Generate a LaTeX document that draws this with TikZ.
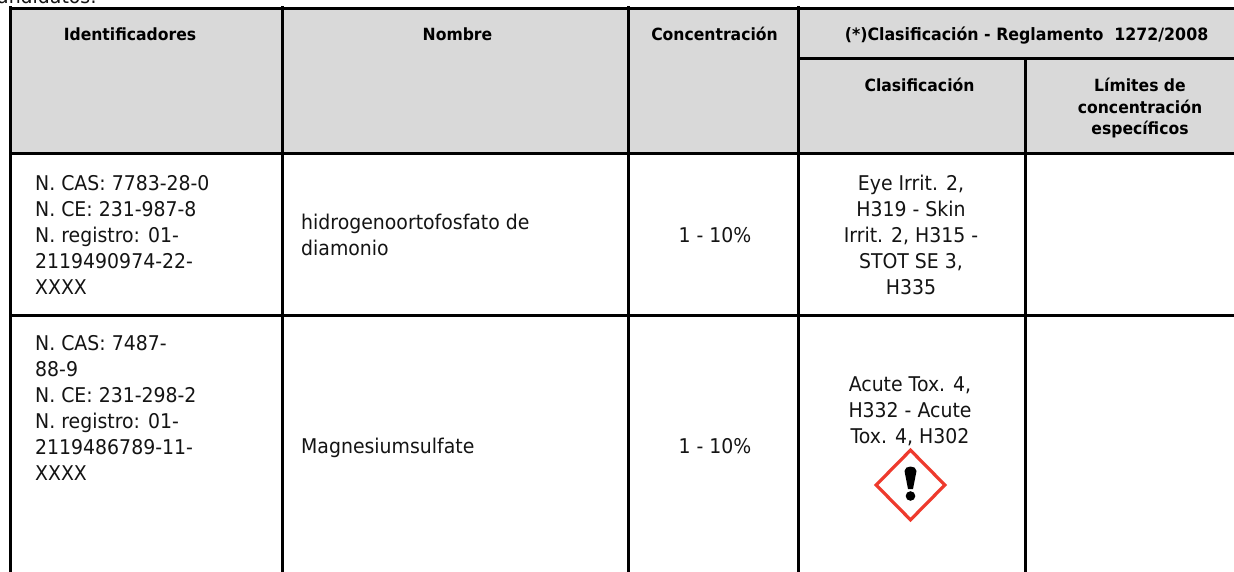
\documentclass[tikz,border=0pt]{standalone}
\usepackage{fontspec}
\setmainfont{DejaVu Sans}[FakeStretch=0.93]
\usetikzlibrary{shapes.geometric}
\definecolor{headgrey}{RGB}{217,217,217}
\definecolor{ghsred}{RGB}{238,58,45}
\tikzset{
  x=1pt,y=-1pt,
  rule/.style={line width=3pt,black,line cap=rect},
  head/.style={font=\fontsize{16.8}{21.5}\selectfont\bfseries,align=center,inner sep=0pt,anchor=north},
  headb/.style={head,anchor=base},
  body/.style={font=\fontsize{20.3}{26}\selectfont,align=left,inner sep=0pt,anchor=west,text=black!92},
  bodyc/.style={font=\fontsize{20.3}{26}\selectfont,align=center,inner sep=0pt,text=black!92},
}
\begin{document}
\begin{tikzpicture}
\clip (0,0) rectangle (1234,572);
\useasboundingbox (0,0) rectangle (1234,572);
\fill[white] (0,0) rectangle (1234,572);
\node[body,anchor=base west] (cut) at (-3,3.5) {andidatos:};
\fill[headgrey] (10,8) rectangle (1234,153);
% rules
\coordinate (tl) at (10,8.5); \coordinate (tr) at (1236,8.5);
\coordinate (hl) at (10,153.5); \coordinate (hr) at (1236,153.5);
\draw[rule] (tl) -- (tr);
\draw[rule] (hl) -- (hr);
\draw[rule] (10,315) -- (1236,315);
\draw[rule] (798,59) -- (1236,59);
\draw[rule] (10,8) -- (10,574);
\draw[rule] (282,8) -- (282,574);
\draw[rule] (628,8) -- (628,574);
\draw[rule] (798,8) -- (798,574);
\draw[rule] (1025,59) -- (1025,574);
% headers
\node[headb] (h1) at (130,41) {Identificadores};
\node[headb] (h2) at (457.5,41) {Nombre};
\node[headb] (h3) at (714.5,41) {Concentración};
\node[headb,font=\fontsize{17}{21.5}\selectfont\bfseries] (h4) at (1026.5,41) {(*)Clasificación - Reglamento\ \ 1272/2008};
\node[headb] (h5) at (919.5,92) {Clasificación};
\node[head] (h6) at (1140,78) {Límites de\\concentración\\específicos};
% row 1
\node[body] (a1) at (35,234.5) {N. CAS: 7783-28-0\\N. CE: 231-987-8\\N. registro: 01-\\2119490974-22-\\XXXX};
\node[body] (b1) at (301,235) {hidrogenoortofosfato de\\diamonio};
\node[bodyc] (c1) at (715,235) {1 - 10\%};
\node[bodyc] (d1) at (911,234.5) {Eye Irrit. 2,\\H319 - Skin\\Irrit. 2, H315 -\\STOT SE 3,\\H335};
% row 2
\node[body] (a2) at (35,408) {N. CAS: 7487-\\88-9\\N. CE: 231-298-2\\N. registro: 01-\\2119486789-11-\\XXXX};
\node[body,anchor=base west] (b2) at (301,453) {Magnesiumsulfate};
\node[bodyc] (c2) at (715,446) {1 - 10\%};
\node[bodyc] (d2) at (910,411) {Acute Tox. 4,\\H332 - Acute\\Tox. 4, H302};
% pictogram
\coordinate (gc) at (910.5,485);
\node[diamond,draw=ghsred,line width=3.2pt,fill=white,minimum width=70pt,minimum height=71pt,inner sep=0pt,aspect=1] (ghs) at (gc) {};
\fill[black] (904.5,471) .. controls (904.5,465) and (916.5,465) .. (916.5,471) -- (913,489) -- (908,489) -- cycle;
\fill[black] (910.5,496) circle (4.8pt);
\end{tikzpicture}
\end{document}
